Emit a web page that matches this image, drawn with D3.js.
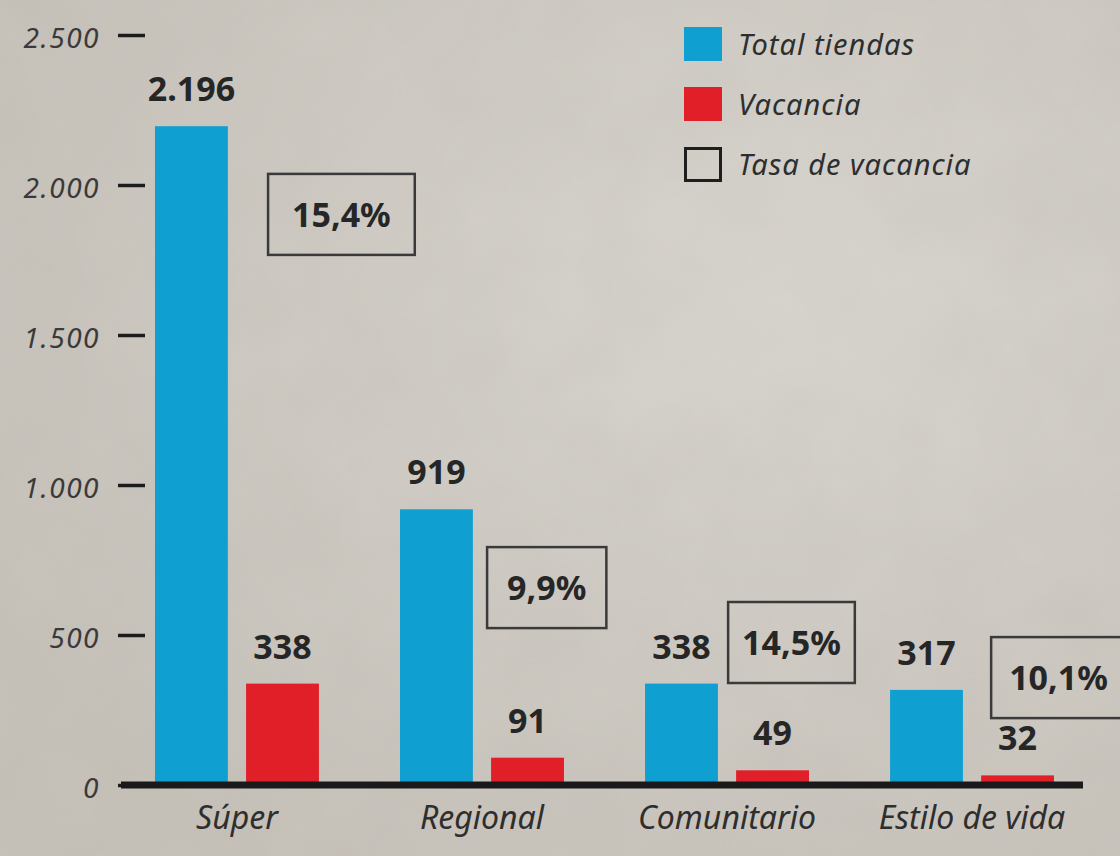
<!DOCTYPE html>
<html>
<head>
<meta charset="utf-8">
<script src="https://cdn.jsdelivr.net/npm/d3@7"></script>
<style>
    html, body { margin: 0; padding: 0; background: #cdc9c2; }
    svg { display: block; }
    .tick-label { font-family: "Noto Sans", sans-serif; font-style: italic; fill: #3a3a3a; }
    .value-label { font-family: "Noto Sans", sans-serif; font-weight: bold; fill: #262626; }
</style>
</head>
<body>
<svg id="chart"></svg>
<script>
// Data
const categories = ['Súper', 'Regional', 'Comunitario', 'Estilo de vida'];
const seriesNames = ['Total tiendas', 'Vacancia'];
const totalTiendas = [2196, 919, 338, 317];
const vacancia = [338, 91, 49, 32];
const tasaVacancia = [0.154, 0.099, 0.145, 0.101];
const yTicks = [0, 500, 1000, 1500, 2000, 2500];

const W = 1120, H = 856;
const colors = { 'Total tiendas': '#0f9fd0', 'Vacancia': '#e01f29' };

// Spanish number formatting (2.196 / 15,4%)
const es = d3.formatLocale({ decimal: ',', thousands: '.', grouping: [3], currency: ['', ' €'] });
const fmtInt = es.format(',d');
const fmtPct = es.format('.1%');

const svg = d3.select('#chart').attr('width', W).attr('height', H);

// Paper / concrete background
const defs = svg.append('defs');
const grad = defs.append('radialGradient').attr('id', 'bgGrad')
    .attr('cx', '70%').attr('cy', '35%').attr('r', '80%');
grad.append('stop').attr('offset', '0%').attr('stop-color', '#d9d6d0');
grad.append('stop').attr('offset', '100%').attr('stop-color', '#c6c1b9');
const noise = defs.append('filter').attr('id', 'noise');
noise.append('feTurbulence').attr('type', 'fractalNoise').attr('baseFrequency', 0.012)
    .attr('numOctaves', 4).attr('seed', 7);
noise.append('feColorMatrix').attr('type', 'matrix')
    .attr('values', '0 0 0 0 0.45  0 0 0 0 0.42  0 0 0 0 0.38  0 0 0 0.18 0');
noise.append('feComposite').attr('in2', 'SourceGraphic').attr('operator', 'in');

svg.append('rect').attr('width', W).attr('height', H).attr('fill', 'url(#bgGrad)');
svg.append('rect').attr('width', W).attr('height', H).attr('fill', '#000').attr('filter', 'url(#noise)');

// Scales
const y = d3.scaleLinear().domain([0, 2500]).range([785, 35]);

const x0 = d3.scaleBand()
    .domain(categories)
    .range([155, 1054])
    .paddingInner(0.331)
    .paddingOuter(0);

const x1 = d3.scaleBand()
    .domain(seriesNames)
    .range([0, x0.bandwidth()])
    .paddingInner(0.2);

// Y axis: short thick ticks, italic labels, no domain line
const yAxis = svg.append('g')
    .attr('transform', 'translate(145,0)')
    .call(d3.axisLeft(y).tickValues(yTicks).tickFormat(fmtInt).tickSize(27).tickPadding(18));
yAxis.select('.domain').remove();
yAxis.selectAll('.tick line').attr('stroke', '#1c1c1c').attr('stroke-width', 3.5);
yAxis.selectAll('.tick text')
    .attr('class', 'tick-label')
    .style('font-size', '28px')
    .style('letter-spacing', '1.5px')
    .attr('dy', '0.45em');

// Bars
const rows = categories.map((c, i) => ({
    cat: c,
    values: [
        { key: 'Total tiendas', value: totalTiendas[i] },
        { key: 'Vacancia', value: vacancia[i] }
    ],
    rate: tasaVacancia[i]
}));

const groups = svg.selectAll('.group')
    .data(rows)
    .enter().append('g')
    .attr('class', 'group')
    .attr('transform', d => `translate(${x0(d.cat)},0)`);

groups.selectAll('rect')
    .data(d => d.values)
    .enter().append('rect')
    .attr('x', d => x1(d.key))
    .attr('y', d => y(d.value))
    .attr('width', x1.bandwidth())
    .attr('height', d => y(0) - y(d.value))
    .attr('fill', d => colors[d.key]);

// Value labels above bars
groups.selectAll('.value-label')
    .data(d => d.values)
    .enter().append('text')
    .attr('class', 'value-label')
    .attr('x', d => x1(d.key) + x1.bandwidth() / 2)
    .attr('y', d => y(d.value) - 25)
    .attr('text-anchor', 'middle')
    .style('font-size', '34px')
    .text(d => fmtInt(d.value));

// Vacancy-rate boxes (annotation placement: offset from the red bar, top in data units)
const boxDx = [22, -4, -8, 10];
const boxPad = [24, 20, 14, 18];
const boxTopAt = [2037, 793, 610, 493];
groups.each(function (d, i) {
    const g = d3.select(this);
    const left = x1('Vacancia') + boxDx[i];
    const top = y(boxTopAt[i]);
    const box = g.append('rect')
        .attr('x', left)
        .attr('y', top)
        .attr('height', 81)
        .attr('fill', 'none')
        .attr('stroke', '#3a3a3a')
        .attr('stroke-width', 2.5);
    const t = g.append('text')
        .attr('class', 'value-label')
        .attr('x', left + boxPad[i])
        .attr('y', top + 53)
        .style('font-size', '34px')
        .text(fmtPct(d.rate));
    box.attr('width', t.node().getComputedTextLength() + 2 * boxPad[i]);
});

// Baseline
svg.append('line')
    .attr('x1', 121).attr('x2', 1083)
    .attr('y1', y(0)).attr('y2', y(0))
    .attr('stroke', '#1a1a1a')
    .attr('stroke-width', 7);

// X axis labels
const xAxis = svg.append('g')
    .attr('transform', `translate(0,${y(0)})`)
    .call(d3.axisBottom(x0).tickSize(0).tickPadding(0));
xAxis.select('.domain').remove();
xAxis.selectAll('.tick text')
    .attr('class', 'tick-label')
    .attr('dy', '44px')
    .style('font-size', '32px')
    .style('fill', '#2e2e2e');

// Legend
const legendItems = ['Total tiendas', 'Vacancia', 'Tasa de vacancia'];
const legend = svg.append('g').attr('transform', 'translate(684,27)');
const li = legend.selectAll('.legend-item')
    .data(legendItems)
    .enter().append('g')
    .attr('class', 'legend-item')
    .attr('transform', (d, i) => `translate(0,${i * 60})`);

li.append('rect')
    .attr('x', d => colors[d] ? 0 : 1.5)
    .attr('y', d => colors[d] ? 0 : 1.5)
    .attr('width', d => colors[d] ? 38 : 35)
    .attr('height', d => colors[d] ? 34 : 32)
    .attr('fill', d => colors[d] || 'none')
    .attr('stroke', d => colors[d] ? 'none' : '#1e1e1e')
    .attr('stroke-width', 3);

li.append('text')
    .attr('class', 'tick-label')
    .attr('x', 54)
    .attr('y', 28)
    .style('font-size', '29px')
    .style('letter-spacing', '1px')
    .style('fill', '#2e2e2e')
    .text(d => d);
</script>
</body>
</html>
